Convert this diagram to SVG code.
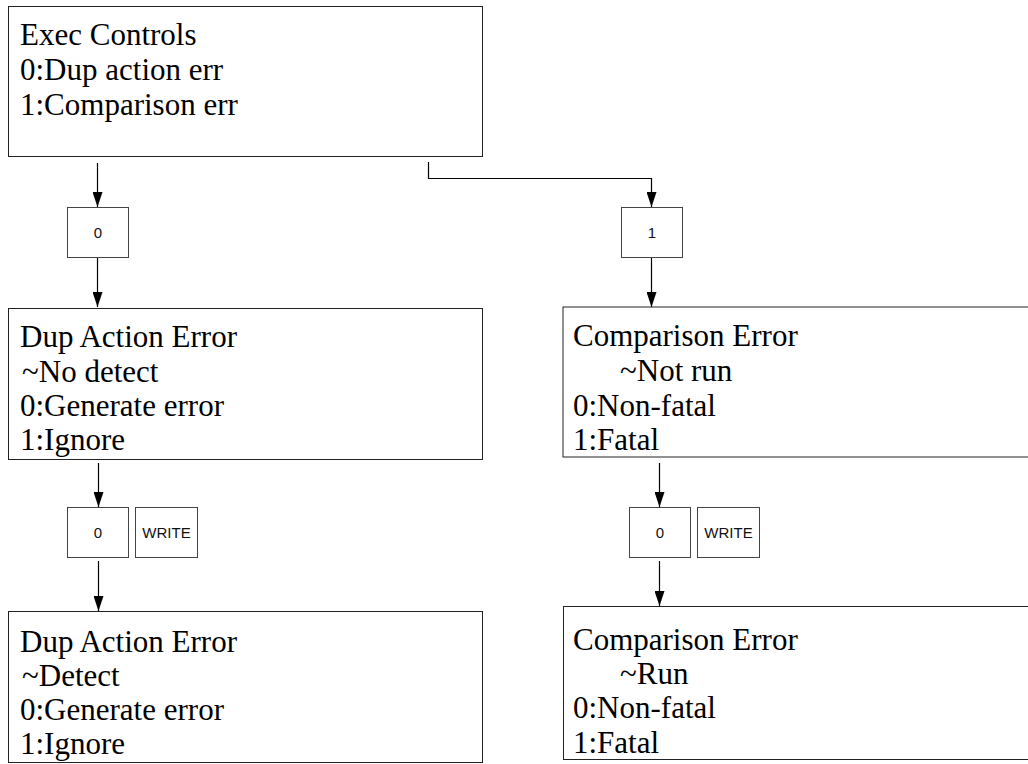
<svg xmlns="http://www.w3.org/2000/svg" width="1028" height="764" viewBox="0 0 1028 764">
<defs>
<style>
.box{fill:#fff;stroke:#222;stroke-width:1}
.gbox{fill:#fff;stroke:#444;stroke-width:1}
.big{font-family:"Liberation Serif","Times New Roman",serif;font-size:31px;fill:#000}
.small{font-family:"Liberation Sans",Arial,sans-serif;font-size:15px;fill:#111;text-anchor:middle}
.conn{fill:none;stroke:#000;stroke-width:1.2}
</style>
<marker id="arr" viewBox="0 0 10 15" refX="5" refY="15" markerWidth="10" markerHeight="15" markerUnits="userSpaceOnUse" orient="auto-start-reverse">
<path d="M0,0 L10,0 L5,15 z" fill="#000" transform="rotate(-90 5 7.5) translate(-2.5 2.5)"/>
</marker>
<marker id="ah" viewBox="0 0 15 10" refX="15" refY="5" markerWidth="15" markerHeight="10" markerUnits="userSpaceOnUse" orient="auto">
<path d="M0,0 L15,5 L0,10 z" fill="#000"/>
</marker>
</defs>
<rect width="1028" height="764" fill="#fff"/>

<g id="connectors">
<path class="conn" d="M97.5,163 V207" marker-end="url(#ah)"/>
<path class="conn" d="M97.5,258 V307" marker-end="url(#ah)"/>
<path class="conn" d="M428.5,162 V178.5 H651.5 V207" marker-end="url(#ah)"/>
<path class="conn" d="M651.5,258 V307" marker-end="url(#ah)"/>
<path class="conn" d="M98.5,463 V507" marker-end="url(#ah)"/>
<path class="conn" d="M98.5,561 V611" marker-end="url(#ah)"/>
<path class="conn" d="M659.5,463 V507" marker-end="url(#ah)"/>
<path class="conn" d="M659.5,561 V606" marker-end="url(#ah)"/>
</g>

<g id="exec-controls">
<rect class="box" x="8.5" y="6.5" width="474" height="150"/>
<text class="big" x="20" y="45">Exec Controls</text>
<text class="big" x="20" y="80">0:Dup action err</text>
<text class="big" x="20" y="115">1:Comparison err</text>
</g>

<g id="sel-0-top">
<rect class="gbox" x="67.5" y="207.5" width="61" height="50"/>
<text class="small" x="98" y="238">0</text>
</g>

<g id="sel-1-top">
<rect class="gbox" x="621.5" y="207.5" width="61" height="50"/>
<text class="small" x="652" y="238">1</text>
</g>

<g id="dup-no-detect">
<rect class="box" x="8.5" y="308.5" width="474" height="151"/>
<text class="big" x="20" y="346.5">Dup Action Error</text>
<text class="big" x="22" y="381.5">~No detect</text>
<text class="big" x="20" y="416">0:Generate error</text>
<text class="big" x="20" y="450">1:Ignore</text>
</g>

<g id="cmp-not-run">
<rect x="563" y="307" width="480" height="150" fill="#fff" stroke="#222" stroke-width="1"/>
<text class="big" x="573" y="346">Comparison Error</text>
<text class="big" x="620" y="381">~Not run</text>
<text class="big" x="573" y="415.5">0:Non-fatal</text>
<text class="big" x="573" y="450">1:Fatal</text>
</g>

<g id="sel-0-left">
<rect class="gbox" x="67.5" y="507.5" width="61" height="50"/>
<text class="small" x="98" y="538">0</text>
</g>

<g id="write-left">
<rect class="gbox" x="135.5" y="507.5" width="62" height="50"/>
<text class="small" x="166.5" y="538">WRITE</text>
</g>

<g id="sel-0-right">
<rect class="gbox" x="629.5" y="507.5" width="61" height="50"/>
<text class="small" x="660" y="538">0</text>
</g>

<g id="write-right">
<rect class="gbox" x="697.5" y="507.5" width="62" height="50"/>
<text class="small" x="728.5" y="538">WRITE</text>
</g>

<g id="dup-detect">
<rect class="box" x="8.5" y="611.5" width="474" height="151"/>
<text class="big" x="20" y="651.5">Dup Action Error</text>
<text class="big" x="22" y="686">~Detect</text>
<text class="big" x="20" y="720">0:Generate error</text>
<text class="big" x="20" y="754">1:Ignore</text>
</g>

<g id="cmp-run">
<rect class="box" x="563.5" y="606.5" width="480" height="153"/>
<text class="big" x="573" y="650">Comparison Error</text>
<text class="big" x="620" y="684">~Run</text>
<text class="big" x="573" y="718">0:Non-fatal</text>
<text class="big" x="573" y="753">1:Fatal</text>
</g>
</svg>
